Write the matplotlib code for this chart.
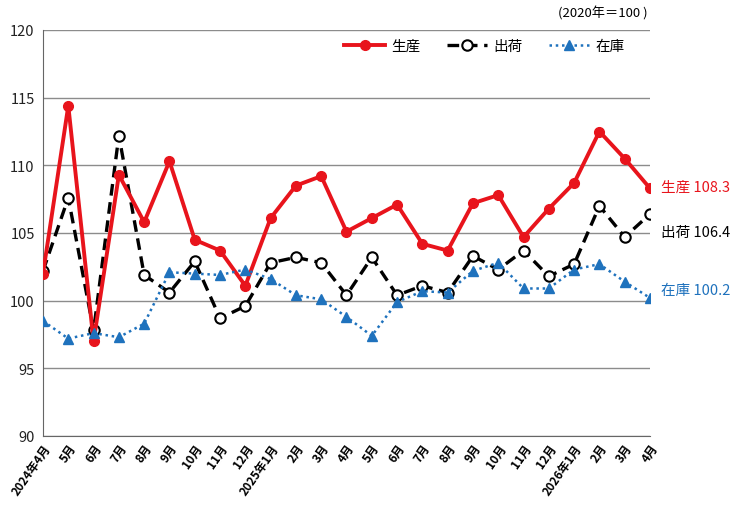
import matplotlib
matplotlib.use("Agg")
import matplotlib.pyplot as plt
import numpy as np

plt.rcParams['font.family'] = ['Noto Sans CJK JP', 'DejaVu Sans']

# Monthly index (2020 = 100), Apr 2024 - Apr 2026
months = ['2024年4月', '5月', '6月', '7月', '8月', '9月', '10月', '11月', '12月',
          '2025年1月', '2月', '3月', '4月', '5月', '6月', '7月', '8月', '9月', '10月', '11月', '12月',
          '2026年1月', '2月', '3月', '4月']
production = [102.0, 114.4, 97.0, 109.3, 105.8, 110.3, 104.5, 103.7, 101.1,
              106.1, 108.5, 109.2, 105.1, 106.1, 107.1, 104.2, 103.7, 107.2, 107.8,
              104.7, 106.8, 108.7, 112.5, 110.5, 108.3]
shipments = [102.2, 107.6, 97.8, 112.2, 101.9, 100.6, 102.9, 98.7, 99.6,
             102.8, 103.2, 102.8, 100.4, 103.2, 100.4, 101.1, 100.6, 103.3, 102.3,
             103.7, 101.8, 102.7, 107.0, 104.7, 106.4]
inventory = [98.5, 97.2, 97.6, 97.3, 98.3, 102.1, 102.0, 101.9, 102.3,
             101.6, 100.4, 100.1, 98.8, 97.4, 99.9, 100.7, 100.6, 102.2, 102.8,
             100.9, 100.9, 102.3, 102.7, 101.4, 100.2]

red = '#e8141c'
blue = '#1f72bd'

fig = plt.figure(figsize=(7.4, 5.1), dpi=100)
ax = fig.add_axes([43 / 740, (510 - 437) / 510, (650 - 43) / 740, (437 - 31) / 510])

x = np.arange(len(months))
ax.plot(x, production, color=red, lw=2.8, marker='o', ms=7, label='生産', zorder=4)
ax.plot(x, shipments, color='black', lw=2.4, ls=(0, (3.5, 2)), marker='o', ms=7.5,
        mfc='white', mec='black', mew=1.5, label='出荷', zorder=3)
ax.plot(x, inventory, color=blue, lw=1.8, ls=(0, (1, 1.5)), marker='^', ms=7.5,
        mec=blue, label='在庫', zorder=5)

ax.set_xlim(0, len(months) - 1)
ax.set_ylim(90, 120)
ax.set_yticks(np.arange(90, 121, 5))
ax.grid(axis='y', color='#8c8c8c', lw=1)
ax.set_axisbelow(True)
for s in ['top', 'right']:
    ax.spines[s].set_visible(False)
for s in ['left', 'bottom']:
    ax.spines[s].set_color('#666666')
ax.tick_params(axis='both', length=0)
ax.tick_params(axis='y', labelsize=10.5, pad=6, colors='#222222')
ax.set_xticks(x)
ax.set_xticklabels(months, rotation=55, ha='right', rotation_mode='anchor',
                   fontsize=8.5, fontweight='bold')
ax.tick_params(axis='x', pad=4)

ax.legend(loc='upper right', bbox_to_anchor=(0.98, 1.01), ncol=3, frameon=False,
          fontsize=10.5, handlelength=2.8, columnspacing=1.8, handletextpad=0.4)

fig.text(648 / 740, 1 - 13 / 510, '(2020年＝100 )', ha='right', va='center', fontsize=9.5)

last = len(months) - 1
ax.annotate(f'生産 {production[-1]}', (last, production[-1]), xytext=(8, 1.5),
            textcoords='offset points', color=red, fontsize=10.5, va='center', annotation_clip=False)
ax.annotate(f'出荷 {shipments[-1]}', (last, shipments[-1]), xytext=(8, -13),
            textcoords='offset points', color='black', fontsize=10.5, va='center', annotation_clip=False)
ax.annotate(f'在庫 {inventory[-1]}', (last, inventory[-1]), xytext=(8, 6),
            textcoords='offset points', color=blue, fontsize=10.5, va='center', annotation_clip=False)

fig.savefig('out.png', dpi=100)
